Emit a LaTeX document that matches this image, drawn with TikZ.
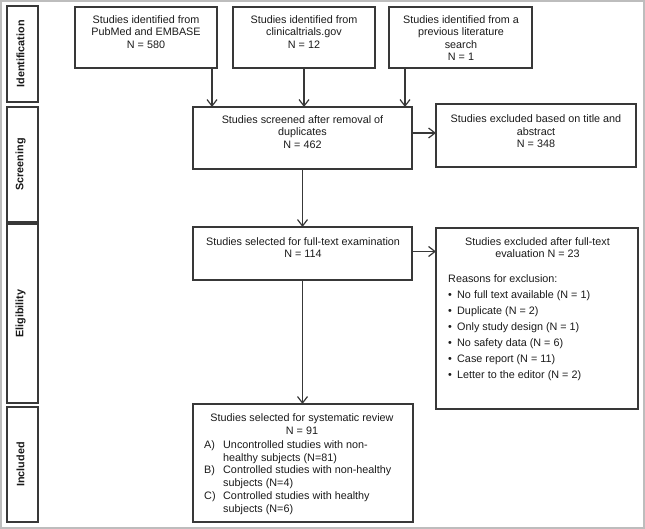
\documentclass[tikz,border=0pt]{standalone}
\usepackage{fontspec}
\setmainfont{Liberation Sans}
\usetikzlibrary{arrows.meta}
\definecolor{boxline}{HTML}{383838}
\definecolor{framec}{HTML}{BDBDBD}
\definecolor{txtc}{HTML}{1A1A1A}
\begin{document}
\begin{tikzpicture}[x=1pt,y=-1pt,
  box/.style={draw=boxline, line width=1.3pt, anchor=north west, inner sep=0pt, outer sep=0pt},
  txt/.style={font=\fontsize{10.8}{12.6}\selectfont, text=txtc, inner sep=0pt, align=center},
  lst/.style={font=\fontsize{10.8}{16}\selectfont, text=txtc, inner sep=0pt, align=left, anchor=west},
  lbl/.style={font=\bfseries\fontsize{10.8}{12.6}\selectfont, text=txtc, inner sep=0pt, rotate=90},
  arr/.style={draw=boxline, line width=1.2pt, -{Straight Barb[length=6.5pt,width=10pt,line width=1.2pt]}}]
\useasboundingbox (0,0) rectangle (645,529);
\draw[framec, line width=1.5pt] (1,1) rectangle (644,528);
% side labels
\node[box, minimum width=31pt, minimum height=96pt] (idlab) at (7,6) {};
\node[box, minimum width=31pt, minimum height=115pt] (scrlab) at (7,107) {};
\node[box, minimum width=31pt, minimum height=179pt] (elilab) at (7,224) {};
\node[box, minimum width=31pt, minimum height=115pt] (inclab) at (7,407) {};
\node[lbl] (idt) at ([xshift=-2pt]idlab.center) {Identification};
\node[lbl] (scrt) at ([xshift=-2pt]scrlab.center) {Screening};
\node[lbl] (elit) at ([xshift=-2pt]elilab.center) {Eligibility};
\node[lbl] (inct) at ([xshift=-2pt]inclab.center) {Included};
% boxes
\node[box, minimum width=142pt, minimum height=61pt] (b1) at (75,7) {};
\node[box, minimum width=142pt, minimum height=61pt] (b2) at (233,7) {};
\node[box, minimum width=143pt, minimum height=61pt] (b3) at (389,7) {};
\node[box, minimum width=219pt, minimum height=62pt] (scr) at (193,107) {};
\node[box, minimum width=200pt, minimum height=63pt] (ex1) at (436,104) {};
\node[box, minimum width=219pt, minimum height=53pt] (full) at (193,227) {};
\node[box, minimum width=202pt, minimum height=181pt] (ex2) at (436,228) {};
\node[box, minimum width=220pt, minimum height=118pt] (sys) at (193,404) {};
% texts
\node[txt] (b1t) at (146,32) {Studies identified from\\PubMed and EMBASE\\N = 580};
\node[txt] (b2t) at (304,32) {Studies identified from\\clinicaltrials.gov\\N = 12};
\node[txt] (b3t) at (461,38) {Studies identified from a\\previous literature\\search\\N = 1};
\node[txt] (scrtx) at (302.5,132) {Studies screened after removal of\\duplicates\\N = 462};
\node[txt] (ex1t) at (536,131.5) {Studies excluded based on title and\\abstract\\N = 348};
\node[txt] (fullt) at (303,247.5) {Studies selected for full-text examination\\N = 114};
\node[txt] (ex2t) at (537.5,247.5) {Studies excluded after full-text\\evaluation N = 23};
\node[lst] (ex2l) at (448,328) {Reasons for exclusion:\\
\makebox[9pt][l]{•}No full text available (N = 1)\\
\makebox[9pt][l]{•}Duplicate (N = 2)\\
\makebox[9pt][l]{•}Only study design (N = 1)\\
\makebox[9pt][l]{•}No safety data (N = 6)\\
\makebox[9pt][l]{•}Case report (N = 11)\\
\makebox[9pt][l]{•}Letter to the editor (N = 2)};
\node[txt] (syst) at (302,424) {Studies selected for systematic review\\N = 91};
\node[lst, font=\fontsize{10.8}{12.8}\selectfont] (sysl) at (204,477.5) {\makebox[19pt][l]{A)}Uncontrolled studies with non-\\
\hspace*{19pt}healthy subjects (N=81)\\
\makebox[19pt][l]{B)}Controlled studies with non-healthy\\
\hspace*{19pt}subjects (N=4)\\
\makebox[19pt][l]{C)}Controlled studies with healthy\\
\hspace*{19pt}subjects (N=6)};
% arrows
\draw[arr] ([xshift=-5pt]b1.south east) -- ([xshift=-5pt]b1.south east |- scr.north);
\draw[arr] (b2.south) -- (b2.south |- scr.north);
\draw[arr] ([xshift=16pt]b3.south west) -- ([xshift=16pt]b3.south west |- scr.north);
\draw[arr] ([yshift=5pt]scr.east) -- ([yshift=5pt]scr.east -| ex1.west);
\draw[arr] (scr.south) -- (scr.south |- full.north);
\draw[arr] ([yshift=2pt]full.east) -- ([yshift=2pt]full.east -| ex2.west);
\draw[arr] (full.south) -- (full.south |- sys.north);
\end{tikzpicture}
\end{document}
